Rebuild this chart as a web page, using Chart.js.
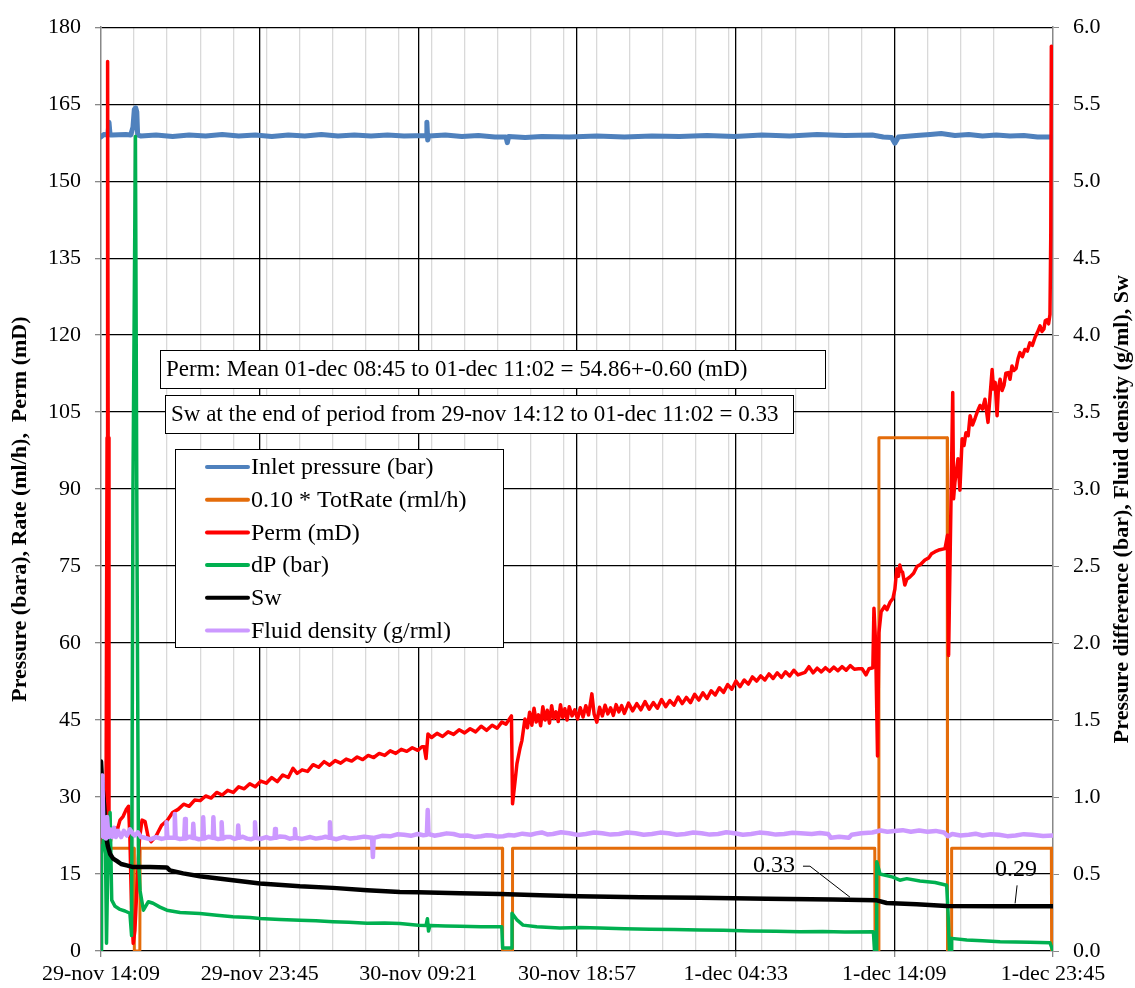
<!DOCTYPE html>
<html>
<head>
<meta charset="utf-8">
<title>Core flood log</title>
<script src="https://cdn.jsdelivr.net/npm/chart.js@4.4.1/dist/chart.umd.min.js"></script>
<style>
  html, body { margin: 0; padding: 0; background: #ffffff; }
  #wrap { width: 1135px; height: 988px; position: relative; }
</style>
</head>
<body>
<div id="wrap"><canvas id="c" width="1135" height="988"></canvas></div>
<script>
// Time is in minutes after 29-nov 14:09; one major division is 9 h 36 min.
const tickLabels = ['29-nov 14:09', '29-nov 23:45', '30-nov 09:21', '30-nov 18:57', '1-dec 04:33', '1-dec 14:09', '1-dec 23:45'];
const majorStep = 576;
const minorStep = 120;
const spanMinutes = 3456;

const seriesNames = ['Inlet pressure (bar)', '0.10 * TotRate (rml/h)', 'Perm (mD)', 'dP (bar)', 'Sw', 'Fluid density (g/rml)'];
const leftTitle = 'Pressure (bara), Rate (ml/h),  Perm (mD)';
const rightTitle = 'Pressure difference (bar), Fluid density (g/ml), Sw';
const noteLines = [
  'Perm: Mean 01-dec 08:45 to 01-dec 11:02 = 54.86+-0.60 (mD)',
  'Sw at the end of period from 29-nov 14:12 to 01-dec 11:02 = 0.33'
];

// Inlet pressure (bar), left axis
const inletT = [0,10,25,29,33,40,90,108,116,121,126,130,133,145,200,260,320,380,440,500,560,620,680,740,800,860,920,980,1040,1100,1180,1183,1186,1190,1250,1310,1370,1430,1470,1475,1480,1540,1600,1700,1800,1900,2000,2100,2200,2300,2400,2500,2600,2700,2800,2840,2870,2882,2895,2960,3010,3050,3100,3150,3200,3250,3300,3350,3400,3456];
const inletV = [158.6,159.1,159.0,161.5,159.0,159.0,159.1,159.0,160.5,164.0,164.3,163.5,159.0,158.8,159.0,158.7,159.0,158.8,159.1,158.8,159.0,158.7,159.0,158.8,159.1,158.8,159.0,158.8,159.0,158.8,158.9,161.5,158.0,158.8,159.0,158.7,158.9,158.6,158.6,157.5,158.7,158.5,158.7,158.6,158.8,158.6,158.8,158.7,158.9,158.7,159.0,158.8,159.1,158.9,159.0,158.6,158.5,157.4,158.6,158.9,159.1,159.3,158.9,159.1,158.8,159.0,158.8,158.9,158.6,158.6];

// 0.10 * total rate (rml/h), left axis
const rateT = [0,120,121,141,142,1457,1458,1493,1494,2809,2810,2823,2824,3072,3073,3087,3088,3450,3451,3456];
const rateV = [20,20,0,0,20,20,0,0,20,20,0,0,100,100,0,0,20,20,0,0];

// Permeability (mD), left axis
const permT = [0,7,18,22,24,26,29,36,44,51,58,69,80,91,100,105,111,117,123,131,140,149,160,171,182,200,220,240,260,280,300,320,340,360,380,400,420,440,460,480,500,520,540,560,580,600,620,640,660,680,697,712,730,750,770,790,810,830,850,870,890,910,930,950,970,990,1010,1030,1050,1070,1090,1110,1130,1150,1165,1173,1180,1187,1200,1220,1240,1260,1280,1300,1320,1340,1360,1380,1400,1420,1438,1455,1470,1490,1494,1503,1510,1521,1528,1539,1548,1556,1564,1572,1580,1588,1596,1604,1612,1620,1628,1636,1644,1652,1660,1668,1676,1684,1692,1700,1710,1720,1730,1740,1750,1760,1770,1782,1790,1800,1810,1820,1830,1840,1850,1860,1870,1880,1890,1900,1915,1930,1945,1960,1975,1990,2005,2020,2035,2050,2065,2080,2095,2110,2125,2140,2155,2170,2185,2200,2215,2230,2245,2260,2275,2290,2305,2320,2335,2350,2365,2380,2395,2410,2425,2440,2455,2470,2485,2500,2515,2530,2556,2570,2585,2600,2615,2630,2645,2660,2675,2690,2705,2720,2735,2750,2763,2777,2788,2802,2806,2812,2819,2824,2832,2845,2853,2865,2875,2882,2889,2895,2900,2905,2910,2918,2925,2937,2950,2962,2975,2991,3005,3015,3028,3045,3064,3073,3077,3082,3092,3095,3100,3111,3118,3126,3133,3140,3148,3155,3164,3173,3182,3191,3200,3209,3220,3228,3235,3240,3246,3253,3258,3264,3271,3278,3285,3293,3300,3307,3314,3322,3329,3336,3345,3354,3363,3372,3381,3391,3400,3409,3416,3423,3428,3434,3440,3445,3448,3450];
const permV = [20.5,22,21,100,173.3,100,19.5,22,23,24,23.4,25.5,26.2,27.5,28.2,22,8,1.5,4,13,22,25.5,25.2,22.3,21.3,22.4,24.5,25.4,27.0,27.6,28.6,28.2,29.4,29.3,30.2,29.8,30.9,30.4,31.3,30.9,32.0,31.6,32.6,32.0,33.1,32.7,33.8,33.0,34.3,33.8,35.6,34.6,35.3,35.0,36.3,35.8,36.9,36.2,37.1,36.6,37.4,37.0,37.8,37.3,38.1,37.7,38.5,38.1,39.0,38.5,39.3,38.9,39.6,39.1,39.8,39.8,37.5,42.3,41.6,42.4,41.8,42.7,42.2,43.1,42.5,43.3,42.7,43.8,43.0,44.0,43.4,44.6,44.2,45.8,28.7,33,36.5,39.5,41,45.2,43.5,46.5,44.0,47.3,44.6,46.0,43.9,47.6,45.0,46.9,44.4,47.8,45.3,46.6,44.7,48.0,45.5,47.2,45.0,47.6,45.8,47.0,45.2,47.4,45.6,47.8,46.0,50.1,46.2,44.6,47.5,45.8,47.9,46.2,47.4,45.9,48.0,46.6,47.8,46.3,48.3,46.8,48.2,47.0,48.6,47.1,48.4,47.3,49.0,47.6,48.8,47.9,49.5,48.2,49.4,48.4,50.0,48.9,50.3,49.2,50.7,49.9,51.3,50.4,51.9,51.0,52.6,51.5,52.8,52.0,53.4,52.6,53.6,52.8,54.0,53.1,54.2,53.3,54.4,53.6,54.7,53.8,54.3,55.4,54.2,55.1,54.4,55.2,54.5,55.3,54.6,55.4,54.7,55.6,54.9,55.0,55.0,53.8,55.0,55.2,66.8,60,38,62,66.1,67.2,66.5,68.0,68.7,70.5,74.5,73.0,75.2,74.0,73.8,71.3,72.4,72.9,73.6,74.9,75.3,76.2,76.6,77.4,77.8,78.2,78.4,81,57.6,75,108.8,88.1,91.4,95.9,89.8,99.8,98.5,101,100.4,104.3,102.5,103.8,105.2,106.3,105.6,107.5,103,108.5,113.3,109.5,110.8,104.3,109.8,111.4,109.2,110.2,112.6,112.7,111.4,114,113.1,113.5,115.4,116.6,115.8,117.2,116.9,118.5,118.0,119.6,120.6,121.8,120.7,121.2,122.8,123,122.2,124,140,176.3];

// Differential pressure (bar), right axis
const dpT = [0,2,7,15,20,25,33,39,51,69,87,105,111,116,125,131,136,142,154,172,189,214,239,287,359,420,479,540,577,650,722,780,842,900,966,1030,1085,1151,1180,1185,1189,1194,1250,1303,1380,1455,1458,1490,1492,1511,1532,1582,1666,1740,1811,1900,1993,2080,2174,2260,2356,2450,2537,2620,2700,2804,2808,2814,2816,2828,2875,2900,2925,2973,3028,3070,3075,3080,3086,3088,3143,3200,3264,3320,3372,3445,3456];
const dpV = [0,0.63,0.7,0.85,0.05,0.6,0.9,0.33,0.29,0.27,0.26,0.245,0.1,3.0,5.29,2.5,0.6,0.39,0.265,0.32,0.31,0.285,0.265,0.25,0.244,0.232,0.222,0.218,0.211,0.205,0.2,0.196,0.19,0.186,0.18,0.182,0.179,0.168,0.165,0.21,0.13,0.165,0.163,0.16,0.158,0.157,0.02,0.02,0.245,0.2,0.168,0.157,0.15,0.152,0.149,0.145,0.142,0.14,0.136,0.134,0.13,0.129,0.125,0.127,0.124,0.125,0,0,0.58,0.5,0.48,0.46,0.47,0.455,0.445,0.427,0.25,0,0,0.082,0.071,0.066,0.06,0.058,0.057,0.054,0];

// Water saturation, right axis
const swT = [0,4,11,18,25,33,44,57,73,93,117,178,239,250,298,359,479,577,722,842,966,1085,1151,1303,1448,1594,1732,1957,2174,2417,2657,2813,2852,2961,3070,3264,3456];
const swV = [1.23,1.1,0.95,0.75,0.68,0.63,0.6,0.585,0.565,0.556,0.545,0.545,0.543,0.524,0.504,0.485,0.459,0.438,0.42,0.41,0.394,0.383,0.381,0.375,0.37,0.362,0.356,0.349,0.346,0.34,0.334,0.33,0.312,0.304,0.293,0.29,0.29];

// Fluid density (g/rml), right axis
const rhoT = [0,2,5,9,15,18,22,27,33,40,47,54,62,73,83,94,105,116,123,134,145,160,180,200,220,236,238,241,266,268,271,285,302,305,308,320,333,335,338,355,369,371,374,390,406,408,411,425,436,438,441,455,470,485,496,498,501,515,530,545,557,559,562,580,600,615,630,632,635,650,670,685,702,704,707,730,760,780,800,815,829,831,834,855,880,905,930,955,984,987,990,1020,1050,1075,1100,1125,1150,1170,1183,1186,1189,1210,1230,1255,1280,1305,1330,1355,1380,1400,1420,1440,1460,1480,1500,1530,1560,1580,1600,1620,1640,1670,1700,1730,1760,1790,1820,1850,1880,1910,1940,1970,2000,2030,2060,2090,2120,2150,2180,2210,2240,2270,2300,2330,2360,2390,2420,2450,2480,2510,2540,2580,2610,2640,2650,2680,2715,2725,2760,2800,2830,2855,2880,2910,2940,2970,3000,3030,3060,3075,3090,3120,3150,3175,3200,3230,3260,3290,3320,3350,3380,3420,3456];
const rhoV = [0.75,1.12,1.14,0.74,0.85,0.73,0.87,0.74,0.79,0.74,0.8,0.74,0.78,0.74,0.78,0.75,0.79,0.76,0.75,0.77,0.74,0.735,0.725,0.74,0.728,0.735,0.836,0.735,0.735,0.89,0.735,0.728,0.73,0.858,0.73,0.742,0.735,0.826,0.735,0.726,0.73,0.868,0.73,0.742,0.735,0.868,0.735,0.727,0.73,0.836,0.73,0.741,0.74,0.728,0.735,0.815,0.735,0.742,0.73,0.726,0.735,0.836,0.735,0.728,0.74,0.73,0.735,0.793,0.735,0.744,0.74,0.729,0.735,0.793,0.735,0.728,0.74,0.73,0.735,0.742,0.735,0.836,0.735,0.726,0.74,0.73,0.735,0.743,0.735,0.61,0.735,0.748,0.745,0.758,0.755,0.748,0.76,0.752,0.755,0.916,0.76,0.749,0.755,0.764,0.76,0.748,0.75,0.741,0.745,0.752,0.75,0.743,0.745,0.753,0.75,0.762,0.755,0.764,0.77,0.757,0.76,0.771,0.765,0.754,0.76,0.77,0.765,0.756,0.76,0.77,0.765,0.755,0.76,0.769,0.765,0.755,0.76,0.77,0.765,0.756,0.76,0.771,0.765,0.755,0.76,0.769,0.765,0.756,0.76,0.768,0.765,0.76,0.766,0.76,0.735,0.742,0.735,0.755,0.765,0.77,0.783,0.774,0.78,0.785,0.775,0.783,0.775,0.78,0.77,0.745,0.76,0.75,0.755,0.762,0.75,0.758,0.755,0.746,0.75,0.759,0.755,0.747,0.75];

// Sw read-outs called out on the curve
const swNoteT = [2719, 3322];
const swNoteLabels = ['0.33', '0.29'];

const FONT = "'Liberation Serif', 'Times New Roman', serif";
const colors = ['#4F81BD', '#E46C0A', '#FF0000', '#00B050', '#000000', '#CC99FF'];
const widths = [5, 3, 3.5, 3.5, 4.5, 4.5];

function pairs(ts, vs) { return ts.map((t, i) => ({ x: t, y: vs[i] })); }

const seriesData = [
  pairs(inletT, inletV), pairs(rateT, rateV), pairs(permT, permV),
  pairs(dpT, dpV), pairs(swT, swV), pairs(rhoT, rhoV)
];
const axisOf = ['y', 'y', 'y', 'y2', 'y2', 'y2'];

const datasets = seriesNames.map((name, i) => ({
  label: name,
  data: seriesData[i],
  yAxisID: axisOf[i],
  borderColor: colors[i],
  backgroundColor: colors[i],
  borderWidth: widths[i],
  pointRadius: 0,
  fill: false,
  order: 6 - i
}));

function drawBox(ctx, x, y, w, h, text, size) {
  ctx.fillStyle = '#ffffff';
  ctx.fillRect(x, y, w, h);
  ctx.strokeStyle = '#000000';
  ctx.lineWidth = 1;
  ctx.strokeRect(x + 0.5, y + 0.5, w, h);
  ctx.fillStyle = '#000000';
  ctx.font = size + 'px ' + FONT;
  ctx.textAlign = 'left';
  ctx.textBaseline = 'middle';
  ctx.fillText(text, x + 6, y + h / 2 + 1);
}

const overlay = {
  id: 'overlay',
  afterDraw(chart) {
    const ctx = chart.ctx;
    const area = chart.chartArea;
    const xs = chart.scales.x, ys = chart.scales.y2;
    ctx.save();

    // axis titles, both reading bottom to top
    ctx.fillStyle = '#000000';
    ctx.font = 'bold 22px ' + FONT;
    ctx.textAlign = 'center';
    ctx.textBaseline = 'middle';
    const midY = (area.top + area.bottom) / 2 + 20;
    [[20, leftTitle], [1122, rightTitle]].forEach(([x, txt]) => {
      ctx.save();
      ctx.translate(x, midY);
      ctx.rotate(-Math.PI / 2);
      ctx.fillText(txt, 0, 0);
      ctx.restore();
    });

    // summary boxes
    drawBox(ctx, 160, 350, 665, 38, noteLines[0], 23);
    drawBox(ctx, 165, 395, 628, 38, noteLines[1], 23);

    // legend
    const lx = 175, ly = 449, lw = 328, lh = 198;
    ctx.fillStyle = '#ffffff';
    ctx.fillRect(lx, ly, lw, lh);
    ctx.strokeStyle = '#000000';
    ctx.lineWidth = 1;
    ctx.strokeRect(lx + 0.5, ly + 0.5, lw, lh);
    ctx.font = '24px ' + FONT;
    ctx.textAlign = 'left';
    ctx.textBaseline = 'middle';
    chart.data.datasets.forEach((ds, i) => {
      const ry = ly + 18 + i * 32.7;
      ctx.strokeStyle = ds.borderColor;
      ctx.lineWidth = 4;
      ctx.lineCap = 'round';
      ctx.beginPath();
      ctx.moveTo(207, ry);
      ctx.lineTo(248, ry);
      ctx.stroke();
      ctx.fillStyle = '#000000';
      ctx.fillText(ds.label, 251, ry + 1);
    });

    // Sw call-outs with leader lines
    ctx.font = '24px ' + FONT;
    ctx.strokeStyle = '#000000';
    ctx.lineWidth = 1;
    ctx.lineCap = 'butt';
    swNoteT.forEach((t, i) => {
      const v = parseFloat(swNoteLabels[i]);
      const px = xs.getPixelForValue(t);
      const py = ys.getPixelForValue(v) - 3;
      ctx.fillStyle = '#000000';
      ctx.beginPath();
      if (i === 0) {
        ctx.textAlign = 'right';
        ctx.fillText(swNoteLabels[i], px - 55, py - 31);
        ctx.moveTo(px - 47, py - 31);
        ctx.lineTo(px - 40, py - 31);
        ctx.lineTo(px, py);
      } else {
        ctx.textAlign = 'center';
        ctx.fillText(swNoteLabels[i], px, py - 34);
        ctx.moveTo(px + 1, py - 18);
        ctx.lineTo(px - 1, py);
      }
      ctx.stroke();
    });
    ctx.restore();
  }
};

new Chart(document.getElementById('c'), {
  type: 'line',
  data: { datasets },
  options: {
    responsive: false,
    animation: false,
    devicePixelRatio: 1,
    layout: { padding: { top: 23, left: 0, right: 0, bottom: 0 } },
    elements: {
      line: { tension: 0, borderJoinStyle: 'round', borderCapStyle: 'round' },
      point: { radius: 0 }
    },
    plugins: { legend: { display: false }, tooltip: { enabled: false } },
    scales: {
      x: {
        type: 'linear', position: 'bottom', min: 0, max: spanMinutes,
        ticks: {
          stepSize: majorStep, autoSkip: false, maxRotation: 0, padding: 4,
          color: '#000000', font: { family: FONT, size: 22 },
          callback: v => tickLabels[Math.round(v / majorStep)]
        },
        grid: {
          color: c => (c.tick && (c.tick.value === 0 || c.tick.value === spanMinutes)) ? 'rgba(0,0,0,0)' : '#000000',
          lineWidth: 1.3, tickLength: 6, tickColor: '#888888'
        },
        border: { display: false },
        afterFit: s => { s.height = 37; }
      },
      xMinor: {
        type: 'linear', position: 'bottom', min: 0, max: spanMinutes,
        ticks: { display: false, stepSize: minorStep },
        grid: {
          color: c => (c.tick && c.tick.value % majorStep === 0) ? 'rgba(0,0,0,0)' : '#d9d9d9',
          lineWidth: 1.3, drawTicks: false, z: -1
        },
        border: { display: false },
        afterFit: s => { s.height = 0; }
      },
      y: {
        position: 'left', min: 0, max: 180,
        ticks: { stepSize: 15, padding: 14, color: '#000000', font: { family: FONT, size: 22 } },
        grid: { color: '#000000', lineWidth: 1.3, tickLength: 6, tickColor: '#888888' },
        border: { color: '#888888', width: 1.5 },
        afterFit: s => { s.width = 101; }
      },
      y2: {
        position: 'right', min: 0, max: 6,
        ticks: { stepSize: 0.5, padding: 14, color: '#000000', font: { family: FONT, size: 22 },
                 callback: v => v.toFixed(1) },
        grid: { drawOnChartArea: false, tickLength: 6, tickColor: '#888888', color: '#888888' },
        border: { color: '#888888', width: 1.5 },
        afterFit: s => { s.width = 82; }
      }
    }
  },
  plugins: [overlay]
});
</script>
</body>
</html>
